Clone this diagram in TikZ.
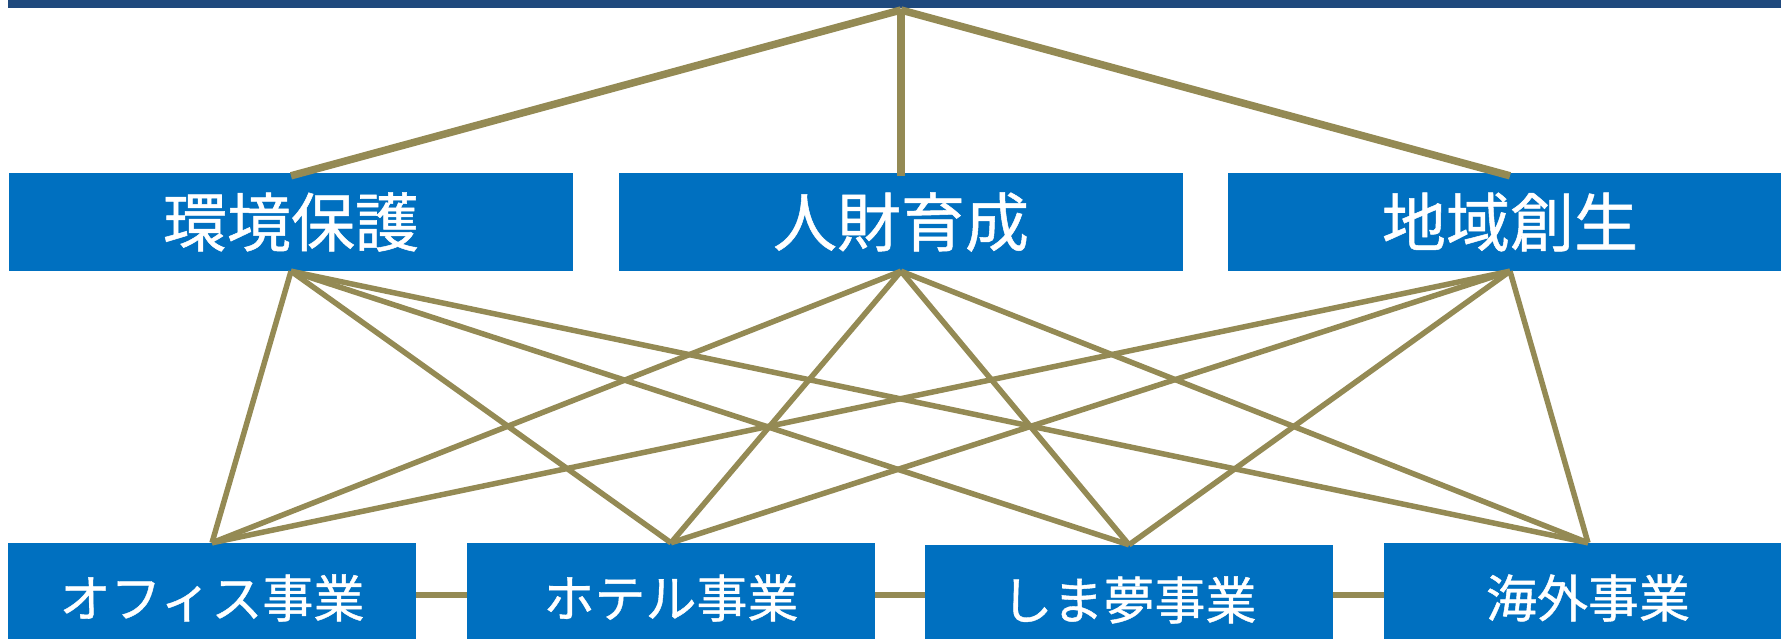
\documentclass[tikz,border=0pt]{standalone}
\usepackage{fontspec}
\newfontfamily\jpfont[FakeBold=0.8]{Noto Sans CJK JP}
\definecolor{barblue}{HTML}{1F497D}
\definecolor{boxblue}{HTML}{0070C0}
\definecolor{linkolive}{HTML}{948A54}
\begin{document}
\begin{tikzpicture}[x=1pt,y=-1pt,
  topbox/.style={fill=boxblue, minimum width=564pt, minimum height=98pt, inner sep=0pt, text=white, font=\jpfont\fontsize{64}{64}\selectfont},
  botbox/.style={fill=boxblue, minimum width=408pt, minimum height=110pt, inner sep=0pt, text=white, font=\jpfont\fontsize{51}{51}\selectfont},
  toplink/.style={draw=linkolive, line width=7.5pt},
  lowlink/.style={draw=linkolive, line width=5.5pt},
  sidelink/.style={draw=linkolive, line width=6.3pt}]
\useasboundingbox (0,0) rectangle (1781,638);
% top bar
\node[fill=barblue, minimum width=1782pt, minimum height=14pt, inner sep=0pt, anchor=north west] (bar) at (8,-6) {};
\coordinate (apex) at (901,10);
% top boxes
\node[topbox] (t1) at (291,222) {環境保護};
\node[topbox] (t2) at (901,222) {人財育成};
\node[topbox] (t3) at (1510,222) {地域創生};
% bottom boxes
\node[botbox] (b1) at (212,598) {オフィス事業};
\node[botbox] (b2) at (671,598) {ホテル事業};
\node[botbox] (b3) at (1129,600) {しま夢事業};
\node[botbox] (b4) at (1588,598) {海外事業};
% links
\foreach \t in {t1,t2,t3} {
  \draw[toplink] (apex) -- ([yshift=-3pt]\t.north);
  \foreach \b in {b1,b2,b3,b4} {
    \draw[lowlink] (\t.south) -- (\b.north);
  }
}
\draw[sidelink] (b1.east |- 0,595) -- (b2.west |- 0,595);
\draw[sidelink] (b2.east |- 0,595) -- (b3.west |- 0,595);
\draw[sidelink] (b3.east |- 0,595) -- (b4.west |- 0,595);
\end{tikzpicture}
\end{document}
